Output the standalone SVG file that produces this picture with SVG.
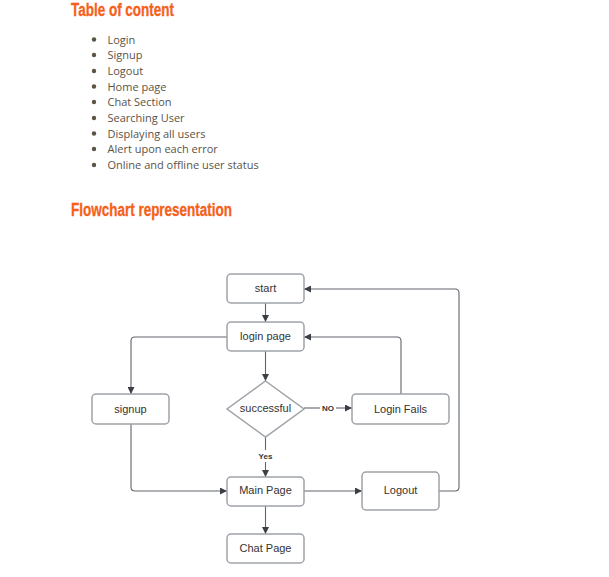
<svg xmlns="http://www.w3.org/2000/svg" width="609" height="577" viewBox="0 0 609 577">
<style>
.h{font-family:"Liberation Sans Narrow","Liberation Sans",sans-serif;font-weight:bold;font-size:18px;fill:#f5601a;stroke:#f5601a;stroke-width:0.3}
.li{font-family:"Open Sans","Noto Sans",sans-serif;font-size:11px;fill:#5b5346}
.b{fill:#5b5346}
.n{fill:#fff;stroke:#9ea2a8;stroke-width:1.5}
.t{font-family:"Liberation Sans",Arial,sans-serif;font-size:11px;fill:#333;text-anchor:middle;dominant-baseline:central}
.c{fill:none;stroke:#60656c;stroke-width:1.1}
.lb{font-family:"Liberation Sans",Arial,sans-serif;font-size:8px;font-weight:bold;fill:#333;text-anchor:middle;dominant-baseline:central}
</style>
<defs>
<marker id="a" viewBox="0 0 10 10" refX="10" refY="5" markerWidth="8" markerHeight="7" markerUnits="userSpaceOnUse" orient="auto">
<path d="M0,0 L10,5 L0,10 z" fill="#3b3f45"/>
</marker>
</defs>
<rect width="609" height="577" fill="#fff"/>
<g id="toc">
<text class="h" x="71" y="16" textLength="103" lengthAdjust="spacingAndGlyphs">Table of content</text>
<g class="b">
<circle cx="94" cy="39.5" r="2.2"/><circle cx="94" cy="55" r="2.2"/><circle cx="94" cy="71" r="2.2"/>
<circle cx="94" cy="86.5" r="2.2"/><circle cx="94" cy="102" r="2.2"/><circle cx="94" cy="118" r="2.2"/>
<circle cx="94" cy="133.5" r="2.2"/><circle cx="94" cy="149" r="2.2"/><circle cx="94" cy="165" r="2.2"/>
</g>
<text class="li" x="107.5" y="43.5">Login</text>
<text class="li" x="107.5" y="59">Signup</text>
<text class="li" x="107.5" y="75">Logout</text>
<text class="li" x="107.5" y="90.5">Home page</text>
<text class="li" x="107.5" y="106">Chat Section</text>
<text class="li" x="107.5" y="122">Searching User</text>
<text class="li" x="107.5" y="137.5">Displaying all users</text>
<text class="li" x="107.5" y="153">Alert upon each error</text>
<text class="li" x="107.5" y="169">Online and offline user status</text>
</g>
<text id="fc-title" class="h" x="71" y="216" textLength="161" lengthAdjust="spacingAndGlyphs">Flowchart representation</text>
<g id="connectors">
<path class="c" d="M265.5,303 V322" marker-end="url(#a)"/>
<path class="c" d="M265.5,351 V381" marker-end="url(#a)"/>
<path class="c" d="M227,337 H135 Q131,337 131,341 V394" marker-end="url(#a)"/>
<path class="c" d="M304,408 H320"/>
<path class="c" d="M336,408 H352" marker-end="url(#a)"/>
<path class="c" d="M401,394 V341 Q401,337 397,337 H304" marker-end="url(#a)"/>
<path class="c" d="M265.5,437 V450"/>
<path class="c" d="M265.5,462 V477" marker-end="url(#a)"/>
<path class="c" d="M131,424 V487 Q131,491 135,491 H227" marker-end="url(#a)"/>
<path class="c" d="M304,491 H362" marker-end="url(#a)"/>
<path class="c" d="M265.5,506 V534" marker-end="url(#a)"/>
<path class="c" d="M439,491 H455 Q459,491 459,487 V293 Q459,289 455,289 H304" marker-end="url(#a)"/>
<text class="lb" x="328" y="408">NO</text>
<text class="lb" x="265.5" y="456">Yes</text>
</g>
<g id="start"><rect class="n" x="227" y="274" width="77" height="29" rx="4"/><text class="t" x="265.5" y="288">start</text></g>
<g id="login"><rect class="n" x="227" y="322" width="77" height="29" rx="4"/><text class="t" x="265.5" y="336">login page</text></g>
<g id="signup"><rect class="n" x="92" y="394" width="77" height="30" rx="4"/><text class="t" x="130.5" y="408.5">signup</text></g>
<g id="successful"><path class="n" d="M265.5,381 L304,409 L265.5,437 L227,409 Z"/><text class="t" x="265.5" y="407.5">successful</text></g>
<g id="loginfails"><rect class="n" x="352" y="394" width="97" height="30" rx="4"/><text class="t" x="400.5" y="408.5">Login Fails</text></g>
<g id="mainpage"><rect class="n" x="227" y="477" width="77" height="29" rx="4"/><text class="t" x="265.5" y="490">Main Page</text></g>
<g id="logout"><rect class="n" x="362" y="472" width="77" height="38" rx="4"/><text class="t" x="400.5" y="489.5">Logout</text></g>
<g id="chatpage"><rect class="n" x="227" y="534" width="77" height="29" rx="4"/><text class="t" x="265.5" y="547.5">Chat Page</text></g>
</svg>
